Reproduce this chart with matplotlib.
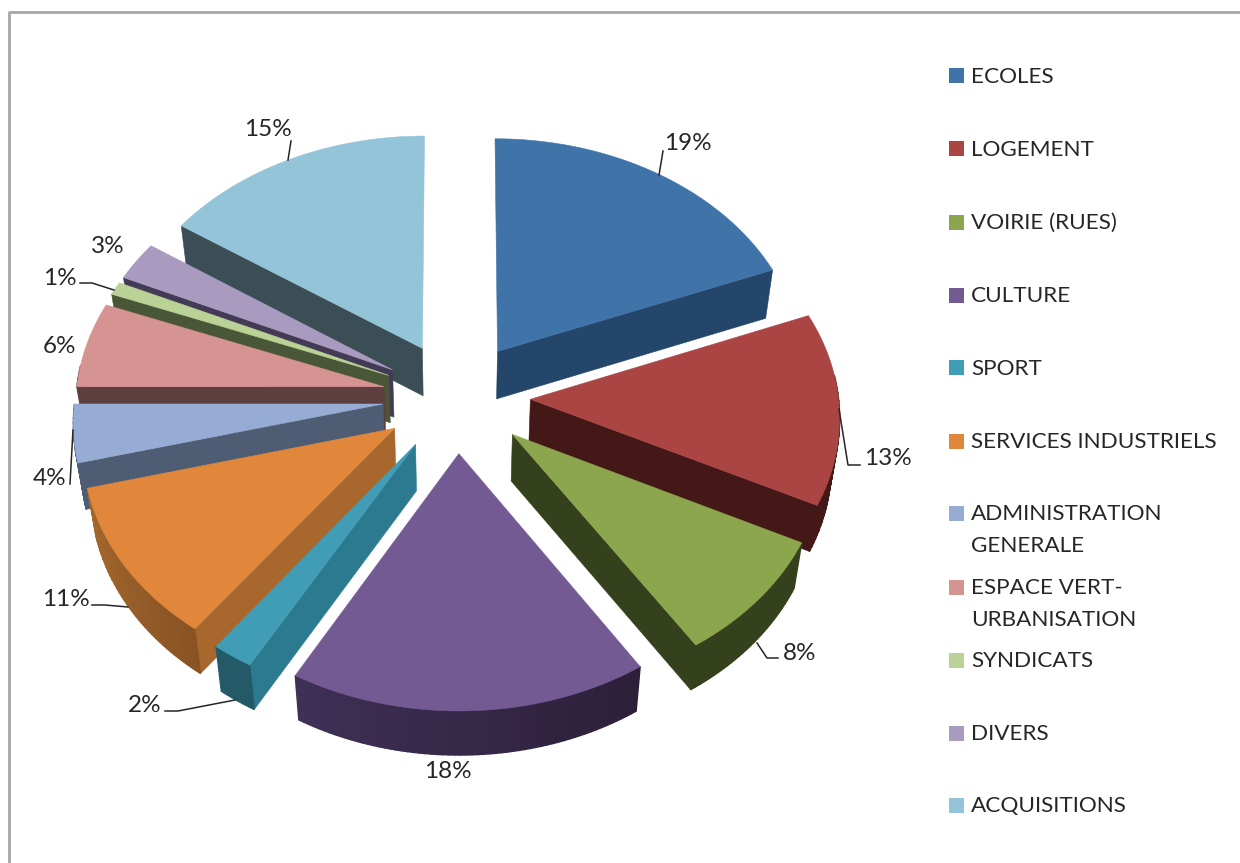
#!/usr/bin/env python3
"""Exploded 3D pie of budget shares, drawn as projected polygons."""

import matplotlib

matplotlib.use("Agg")
import matplotlib.pyplot as plt
import numpy as np
from matplotlib.colors import to_rgb
from matplotlib.patches import Polygon, Rectangle

categories = [
    "ECOLES", "LOGEMENT", "VOIRIE (RUES)", "CULTURE", "SPORT", "SERVICES INDUSTRIELS",
    "ADMINISTRATION\nGENERALE", "ESPACE VERT-\nURBANISATION", "SYNDICATS", "DIVERS", "ACQUISITIONS",
]
percent_labels = [19, 13, 8, 18, 2, 11, 4, 6, 1, 3, 15]
# slice sizes as they look in the picture, the 3D view bends them a bit from the labels
shares = [19.0, 13.3, 8.5, 17.4, 2.0, 10.8, 4.0, 5.9, 0.9, 2.7, 15.5]

top_colors = ["#4074a9", "#ab4544", "#8ca64e", "#745a93", "#409db5", "#e0873c",
              "#97acd4", "#d59392", "#bad295", "#a99bc0", "#93c4d7"]
wall_colors = ["#24466a", "#431816", "#35401c", "#2e2038", "#2c7a90", "#a8682d",
               "#4f5d74", "#5e3f3f", "#4a5638", "#433a55", "#3b4e55"]
rim_start_colors = ["#24466a", "#431816", "#35401c", "#2c1f38", "#245a68", "#8a5324",
                    "#4f5d74", "#5e3f3f", "#4a5638", "#433a55", "#3b4e55"]
rim_end_colors = ["#24466a", "#431816", "#35401c", "#3f3056", "#245a68", "#a56a2e",
                  "#4f5d74", "#5e3f3f", "#4a5638", "#433a55", "#3b4e55"]

# projection of the pie onto the page, in pixels
CX, CY = 456.5, 397
RX, RY = 308, 232.5
PERSPECTIVE = 0.066
DEPTH = 47
DEPTH_SHRINK = 0.022
EXPLODE = 0.24

legend_rows = [79, 152, 225, 298, 371, 444, 516, 590, 663, 736, 808]
# label centre, then the leader line (none for 18% and 6% and 3%)
label_places = [(688, 143), (888, 458), (800, 653), (448, 771), (145, 705), (66, 599),
                (50, 478), (59, 346), (60, 278), (108, 246), (268, 130)]
leaders = [
    [(659, 175), (663, 151)],
    [(839, 409), (848, 465), (860, 465)],
    [(757, 643), (767, 658), (778, 658)],
    None,
    [(235, 700), (178, 711), (165, 711)],
    [(128, 607), (105, 605), (92, 605)],
    [(73, 430), (70, 484)],
    None,
    [(114, 290), (92, 283), (80, 283)],
    None,
    [(288, 160), (291, 141)],
]


def project(x, y, z=0.0):
    """Disc coordinates (y away from the viewer) and z in 0..1 downwards -> pixels."""
    x, y = np.asarray(x, dtype=float), np.asarray(y, dtype=float)
    s = 1 / (1 + PERSPECTIVE * y)
    return np.column_stack((
        CX + RX * x * s * (1 - DEPTH_SHRINK * z),
        CY - RY * y * s + DEPTH * z * (1 + 0.05 * y),
    ))


def add_poly(ax, points, color, zorder, lw=0.4):
    ax.add_patch(Polygon(points, closed=True, facecolor=color, edgecolor=color, linewidth=lw, zorder=zorder))


def blend(c1, c2, t):
    return tuple((1 - t) * a + t * b for a, b in zip(to_rgb(c1), to_rgb(c2)))


def draw_slice(ax, idx, start, stop, zorder):
    mid = (start + stop) / 2
    ox, oy = EXPLODE * np.sin(mid), EXPLODE * np.cos(mid)
    theta = np.linspace(start, stop, max(4, int(np.degrees(stop - start))))
    arc_x = ox + np.sin(theta)
    arc_y = oy + np.cos(theta)

    faces = []
    # only the walls and rim parts that face the viewer
    for a, facing in ((start, np.sin(start) < -1e-6), (stop, np.sin(stop) > 1e-6)):
        if not facing:
            continue
        wx = [ox, ox + np.sin(a)]
        wy = [oy, oy + np.cos(a)]
        quad = np.vstack((project(wx, wy), project(wx[::-1], wy[::-1], 1.0)))
        faces.append((np.mean(wy), quad, wall_colors[idx], 0.4))
    for k in range(len(theta) - 1):
        if np.cos((theta[k] + theta[k + 1]) / 2) > 0.1:
            continue
        sx, sy = arc_x[k:k + 2], arc_y[k:k + 2]
        quad = np.vstack((project(sx, sy), project(sx[::-1], sy[::-1], 1.0)))
        shade = blend(rim_start_colors[idx], rim_end_colors[idx], k / max(1, len(theta) - 2))
        faces.append((np.mean(sy), quad, shade, 1.0))

    # far faces first, the top goes over everything
    for _, quad, color, lw in sorted(faces, key=lambda f: -f[0]):
        add_poly(ax, quad, color, zorder, lw)
    top = project(np.r_[ox, arc_x], np.r_[oy, arc_y])
    add_poly(ax, top, top_colors[idx], zorder + 0.5)


def main():
    plt.rcParams["font.family"] = ["Lato", "DejaVu Sans"]
    fig = plt.figure(figsize=(12.4, 8.63), dpi=100)
    ax = fig.add_axes([0, 0, 1, 1])
    ax.set_xlim(0, 1240)
    ax.set_ylim(863, 0)
    ax.axis("off")

    # chart frame, only top and left are in the picture
    ax.plot([9, 9, 1240], [863, 12, 12], color="#a6a6a6", linewidth=2.0, zorder=1)

    edges = np.r_[0, np.cumsum(shares)] / sum(shares) * 2 * np.pi
    order = sorted(range(len(shares)), key=lambda i: -np.cos((edges[i] + edges[i + 1]) / 2))
    for rank, i in enumerate(order):
        draw_slice(ax, i, edges[i], edges[i + 1], 2 + rank)

    for i, pct in enumerate(percent_labels):
        lx, ly = label_places[i]
        ax.text(lx, ly, f"{pct}%", ha="center", va="center", fontsize=17.5, color="#262626", zorder=40)
        if leaders[i]:
            xs, ys = zip(*leaders[i])
            ax.plot(xs, ys, color="#262626", linewidth=1.1, zorder=40)

    for i, name in enumerate(categories):
        y = legend_rows[i]
        ax.add_patch(Rectangle((949, y - 10.5), 15, 15, facecolor=top_colors[i], edgecolor="none", zorder=40))
        ax.text(971, y - 12, name, ha="left", va="top", fontsize=16.2, color="#262626",
                linespacing=1.75, zorder=40)

    fig.savefig("out.png", dpi=100)
    plt.close(fig)


if __name__ == "__main__":
    main()
